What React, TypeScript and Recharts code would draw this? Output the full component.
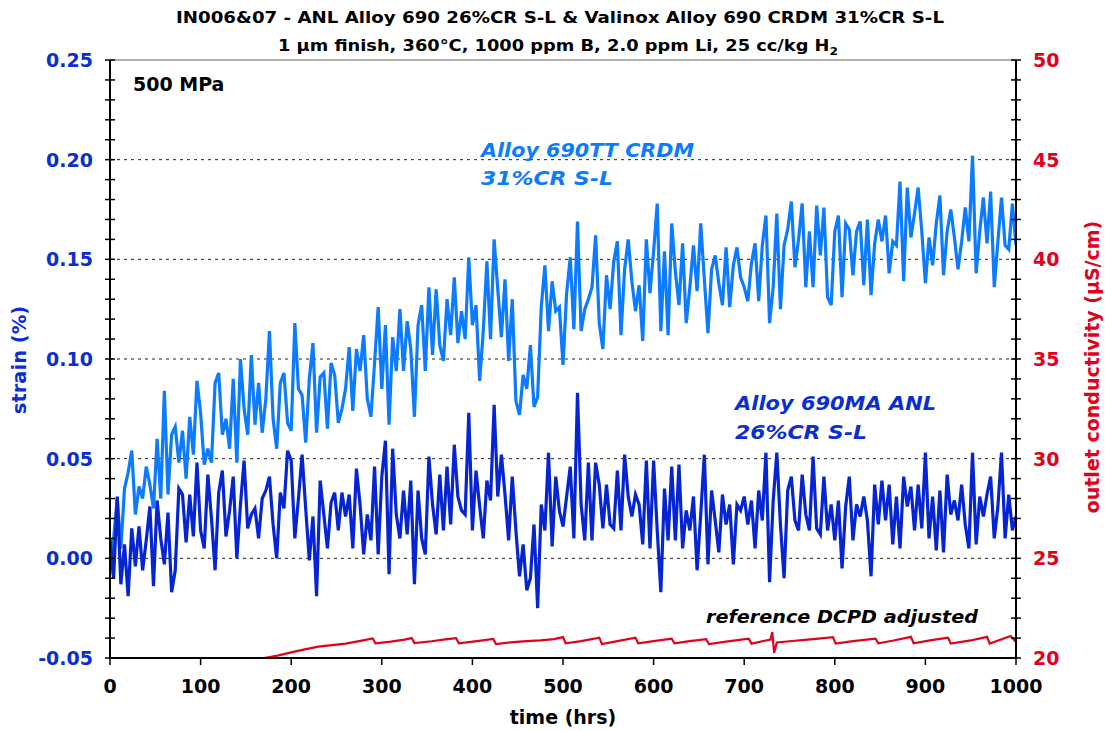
import { LineChart, Line, XAxis, YAxis, ReferenceLine } from "recharts";

// sampling step of the strain records (hrs)
const STEP_HRS = 4;

// Valinox Alloy 690TT CRDM 31%CR S-L, strain (%)
const STRAIN_CRDM = [
  -0.008, 0.010, 0.030, 0.005, 0.035, 0.043, 0.054, 0.022, 0.036, 0.030,
  0.046, 0.037, 0.025, 0.060, 0.030, 0.084, 0.032, 0.062, 0.066, 0.048,
  0.064, 0.040, 0.071, 0.052, 0.089, 0.073, 0.047, 0.055, 0.048, 0.088,
  0.093, 0.062, 0.070, 0.055, 0.090, 0.048, 0.100, 0.075, 0.062, 0.102,
  0.067, 0.088, 0.063, 0.080, 0.114, 0.070, 0.055, 0.088, 0.093, 0.068,
  0.064, 0.118, 0.085, 0.082, 0.058, 0.090, 0.108, 0.063, 0.091, 0.093,
  0.065, 0.098, 0.092, 0.068, 0.075, 0.085, 0.106, 0.074, 0.105, 0.094,
  0.112, 0.080, 0.071, 0.098, 0.126, 0.085, 0.117, 0.067, 0.111, 0.094,
  0.125, 0.094, 0.119, 0.105, 0.071, 0.117, 0.127, 0.094, 0.136, 0.102,
  0.135, 0.107, 0.099, 0.130, 0.112, 0.141, 0.108, 0.124, 0.110, 0.151,
  0.117, 0.127, 0.089, 0.114, 0.149, 0.110, 0.160, 0.135, 0.111, 0.140,
  0.099, 0.130, 0.079, 0.072, 0.092, 0.085, 0.107, 0.076, 0.081, 0.126,
  0.147, 0.114, 0.139, 0.124, 0.126, 0.097, 0.133, 0.151, 0.115, 0.169,
  0.114, 0.125, 0.130, 0.136, 0.162, 0.118, 0.105, 0.142, 0.125, 0.149,
  0.159, 0.112, 0.145, 0.160, 0.139, 0.124, 0.137, 0.109, 0.160, 0.133,
  0.154, 0.178, 0.114, 0.154, 0.112, 0.168, 0.144, 0.127, 0.158, 0.118,
  0.136, 0.157, 0.134, 0.168, 0.140, 0.113, 0.145, 0.152, 0.138, 0.127,
  0.156, 0.126, 0.147, 0.156, 0.141, 0.136, 0.129, 0.148, 0.158, 0.129,
  0.157, 0.172, 0.118, 0.136, 0.173, 0.125, 0.157, 0.165, 0.179, 0.146,
  0.160, 0.178, 0.136, 0.164, 0.136, 0.177, 0.152, 0.176, 0.131, 0.127,
  0.164, 0.172, 0.131, 0.168, 0.165, 0.142, 0.164, 0.169, 0.137, 0.170,
  0.132, 0.158, 0.170, 0.159, 0.172, 0.143, 0.159, 0.157, 0.189, 0.139,
  0.186, 0.161, 0.173, 0.186, 0.164, 0.138, 0.161, 0.147, 0.168, 0.182,
  0.142, 0.164, 0.175, 0.161, 0.145, 0.159, 0.176, 0.159, 0.202, 0.143,
  0.164, 0.181, 0.158, 0.184, 0.136, 0.159, 0.181, 0.157, 0.155, 0.178,
  0.157,
];

// ANL Alloy 690MA 26%CR S-L, strain (%)
const STRAIN_ANL = [
  0.010, -0.010, 0.031, -0.013, 0.007, -0.019, 0.015, -0.004, 0.016, -0.006,
  0.009, 0.026, -0.014, 0.029, 0.010, -0.003, 0.023, -0.017, -0.006, 0.035,
  0.032, 0.008, 0.032, 0.011, 0.048, 0.014, 0.005, 0.042, 0.020, -0.006,
  0.033, 0.044, 0.011, 0.024, 0.041, 0.000, 0.027, 0.049, 0.015, 0.022,
  0.025, 0.010, 0.030, 0.034, 0.041, 0.017, 0.000, 0.033, 0.025, 0.054,
  0.049, 0.010, 0.030, 0.052, 0.025, -0.001, 0.021, -0.019, 0.039, 0.022,
  0.005, 0.028, 0.033, 0.014, 0.033, 0.021, 0.032, 0.005, 0.045, 0.027,
  0.002, 0.022, 0.009, 0.046, 0.002, 0.041, 0.059, -0.008, 0.055, 0.022,
  0.010, 0.034, 0.012, 0.039, -0.013, 0.034, 0.010, 0.002, 0.051, 0.027,
  0.012, 0.042, 0.014, 0.046, 0.017, 0.057, 0.031, 0.024, 0.022, 0.073,
  0.014, 0.044, 0.026, 0.010, 0.039, 0.029, 0.077, 0.031, 0.052, 0.032,
  0.009, 0.041, 0.014, -0.009, 0.007, -0.016, -0.010, 0.017, -0.025, 0.027,
  0.014, 0.053, 0.006, 0.041, 0.024, 0.016, 0.031, 0.046, 0.010, 0.083,
  0.027, 0.009, 0.048, 0.009, 0.048, 0.037, 0.015, 0.037, 0.017, 0.015,
  0.044, 0.014, 0.052, 0.031, 0.021, 0.032, 0.027, 0.007, 0.049, 0.005,
  0.049, 0.014, -0.017, 0.035, 0.009, 0.046, 0.009, 0.047, 0.005, 0.024,
  0.014, 0.031, -0.006, 0.022, 0.052, -0.003, 0.034, 0.019, 0.003, 0.032,
  0.017, 0.027, -0.003, 0.027, 0.024, 0.031, 0.017, 0.029, 0.005, 0.034,
  0.019, 0.053, -0.012, 0.029, 0.053, 0.017, -0.010, 0.034, 0.041, 0.019,
  0.014, 0.042, 0.022, 0.014, 0.051, 0.015, 0.012, 0.041, 0.014, 0.027,
  0.009, 0.029, -0.005, 0.026, 0.041, 0.009, 0.027, 0.021, 0.031, 0.019,
  -0.009, 0.037, 0.017, 0.039, 0.019, 0.037, 0.007, 0.031, 0.005, 0.041,
  0.026, 0.036, 0.014, 0.037, 0.015, 0.053, 0.010, 0.031, 0.004, 0.034,
  0.003, 0.042, 0.022, 0.029, 0.019, 0.037, 0.017, 0.005, 0.053, 0.007,
  0.031, 0.021, 0.032, 0.041, 0.010, 0.026, 0.053, 0.010, 0.032, 0.014,
  0.021,
];

// reference DCPD adjusted, outlet conductivity (µS/cm)
const DCPD_HRS = [
  170, 185, 200, 215, 230, 245, 260, 275, 290, 293, 310, 325, 333, 336, 355, 370,
  382, 385, 405, 423, 426, 445, 460, 475, 490, 500, 503, 520, 540, 543, 560, 580,
  583, 600, 620, 623, 640, 658, 661, 680, 705, 708, 720, 729, 731, 733, 736, 750,
  770, 785, 798, 801, 820, 845, 848, 865, 884, 887, 905, 925, 928, 950, 968, 971,
  985, 994, 1000,
];
const DCPD_COND = [
  20.0, 20.12, 20.28, 20.43, 20.57, 20.65, 20.72, 20.85, 20.98, 20.74, 20.82, 20.92, 21.0, 20.75, 20.84, 20.93,
  21.0, 20.74, 20.85, 20.96, 20.7, 20.8, 20.85, 20.88, 20.95, 21.05, 20.74, 20.85, 21.02, 20.7, 20.85, 21.02,
  20.74, 20.85, 20.97, 20.74, 20.85, 20.95, 20.7, 20.82, 20.97, 20.72, 20.84, 20.92, 21.3, 20.25, 20.78, 20.84,
  20.92, 20.98, 21.04, 20.72, 20.85, 20.97, 20.74, 20.88, 21.06, 20.74, 20.88, 21.02, 20.72, 20.88, 21.06, 20.72,
  20.95, 21.1, 20.8,
];

const X_TICKS = [0, 100, 200, 300, 400, 500, 600, 700, 800, 900, 1000];
const STRAIN_MAJOR = [-0.05, 0.0, 0.05, 0.1, 0.15, 0.2, 0.25];
const COND_MAJOR = [20, 25, 30, 35, 40, 45, 50];
const GRID_LINES = [0.0, 0.05, 0.1, 0.15, 0.2];

const strainMinor: number[] = [];
for (let i = -5; i <= 25; i++) strainMinor.push(i / 100);
const condMinor: number[] = [];
for (let i = 20; i <= 50; i++) condMinor.push(i);

const strainRows = STRAIN_CRDM.map((v, i) => ({ t: i * STEP_HRS, crdm: v, anl: STRAIN_ANL[i] }));
const dcpdRows = DCPD_HRS.map((t, i) => ({ t, cond: DCPD_COND[i] }));

const FONT = "'DejaVu Sans', Verdana, sans-serif";
const LIGHT = "#0c7bff";
const DARK = "#0524d2";
const RED = "#e2001a";
const LABEL_BLUE = "#0a2ed0";

const LeftTick = (props: any) => {
  const { x, y, payload } = props;
  const major = STRAIN_MAJOR.some((v) => Math.abs(v - payload.value) < 1e-9);
  return (
    <g>
      <line x1={x - 5} x2={x + 5} y1={y} y2={y} stroke="#000" strokeWidth={1.5} />
      {major && (
        <text x={x - 17} y={y} dy="0.36em" textAnchor="end" fill={LABEL_BLUE} fontSize={19} fontWeight="bold" fontFamily={FONT}>
          {payload.value.toFixed(2)}
        </text>
      )}
    </g>
  );
};

const RightTick = (props: any) => {
  const { x, y, payload } = props;
  const major = COND_MAJOR.includes(payload.value);
  return (
    <g>
      <line x1={x - 5} x2={x + 5} y1={y} y2={y} stroke="#000" strokeWidth={1.5} />
      {major && (
        <text x={x + 17} y={y} dy="0.36em" textAnchor="start" fill={RED} fontSize={19} fontWeight="bold" fontFamily={FONT}>
          {payload.value}
        </text>
      )}
    </g>
  );
};

export default function App() {
  return (
    <div style={{ position: "absolute", left: 0, top: 0, width: 1105, height: 731, background: "#fff", fontFamily: FONT }}>
      <LineChart width={1105} height={731} data={strainRows} margin={{ top: 60, right: 0, bottom: 0, left: 0 }}>
        <XAxis
          type="number"
          dataKey="t"
          domain={[0, 1000]}
          ticks={X_TICKS}
          interval={0}
          height={73}
          tickSize={7}
          tickMargin={15}
          axisLine={{ stroke: "#000", strokeWidth: 2 }}
          tickLine={{ stroke: "#000", strokeWidth: 1.5 }}
          tick={{ fill: "#000", fontSize: 19, fontWeight: "bold", fontFamily: FONT }}
          allowDataOverflow
        />
        <YAxis
          yAxisId="left"
          domain={[-0.05, 0.25]}
          ticks={strainMinor}
          interval={0}
          width={110}
          tickSize={0}
          tickMargin={0}
          tickLine={false}
          axisLine={{ stroke: "#000", strokeWidth: 2 }}
          tick={<LeftTick />}
          allowDataOverflow
        />
        <YAxis
          yAxisId="right"
          orientation="right"
          domain={[20, 50]}
          ticks={condMinor}
          interval={0}
          width={89}
          tickSize={0}
          tickMargin={0}
          tickLine={false}
          axisLine={{ stroke: "#000", strokeWidth: 2 }}
          tick={<RightTick />}
          allowDataOverflow
        />
        {GRID_LINES.map((g) => (
          <ReferenceLine key={g} yAxisId="left" y={g} stroke="#222" strokeWidth={1} strokeDasharray="3 4" />
        ))}
        <ReferenceLine yAxisId="left" y={0.25} stroke="#999" strokeWidth={1.5} />
        <Line
          yAxisId="right"
          data={dcpdRows}
          dataKey="cond"
          type="linear"
          stroke={RED}
          strokeWidth={2.2}
          dot={false}
          isAnimationActive={false}
        />
        <Line yAxisId="left" dataKey="crdm" type="linear" stroke={LIGHT} strokeWidth={3.2} dot={false} isAnimationActive={false} />
        <Line yAxisId="left" dataKey="anl" type="linear" stroke={DARK} strokeWidth={3.2} dot={false} isAnimationActive={false} />
      </LineChart>
      <svg width={1105} height={731} style={{ position: "absolute", left: 0, top: 0, pointerEvents: "none" }} fontFamily={FONT}>
        <text x={176} y={23} textLength={768} lengthAdjust="spacingAndGlyphs" fontSize={16} fontWeight="bold" fill="#000">
          IN006&amp;07 - ANL Alloy 690 26%CR S-L &amp; Valinox Alloy 690 CRDM 31%CR S-L
        </text>
        <text x={278} y={51} textLength={560} lengthAdjust="spacingAndGlyphs" fontSize={16} fontWeight="bold" fill="#000">
          1 µm finish, 360°C, 1000 ppm B, 2.0 ppm Li, 25 cc/kg H
          <tspan fontSize={11} dy={4}>2</tspan>
        </text>
        <text x={133} y={91} fontSize={19} fontWeight="bold" fill="#000">500 MPa</text>
        <text x={481} y={157} textLength={213} lengthAdjust="spacingAndGlyphs" fontSize={19.5} fontWeight="bold" fontStyle="italic" fill={LIGHT}>Alloy 690TT CRDM</text>
        <text x={481} y={185} textLength={132} lengthAdjust="spacingAndGlyphs" fontSize={19.5} fontWeight="bold" fontStyle="italic" fill={LIGHT}>31%CR S-L</text>
        <text x={735} y={410} textLength={201} lengthAdjust="spacingAndGlyphs" fontSize={19.5} fontWeight="bold" fontStyle="italic" fill={LABEL_BLUE}>Alloy 690MA ANL</text>
        <text x={735} y={439} textLength={132} lengthAdjust="spacingAndGlyphs" fontSize={19.5} fontWeight="bold" fontStyle="italic" fill={LABEL_BLUE}>26%CR S-L</text>
        <text x={706} y={623} textLength={272} lengthAdjust="spacingAndGlyphs" fontSize={18} fontWeight="bold" fontStyle="italic" fill="#000">reference DCPD adjusted</text>
        <text x={563} y={724} textAnchor="middle" fontSize={19} fontWeight="bold" fill="#000">time (hrs)</text>
        <text transform="translate(26,360) rotate(-90)" textAnchor="middle" fontSize={19.5} fontWeight="bold" fill={LABEL_BLUE}>strain (%)</text>
        <text transform="translate(1099,367) rotate(-90)" textAnchor="middle" fontSize={19} fontWeight="bold" fill={RED}>outlet conductivity (µS/cm)</text>
      </svg>
    </div>
  );
}
